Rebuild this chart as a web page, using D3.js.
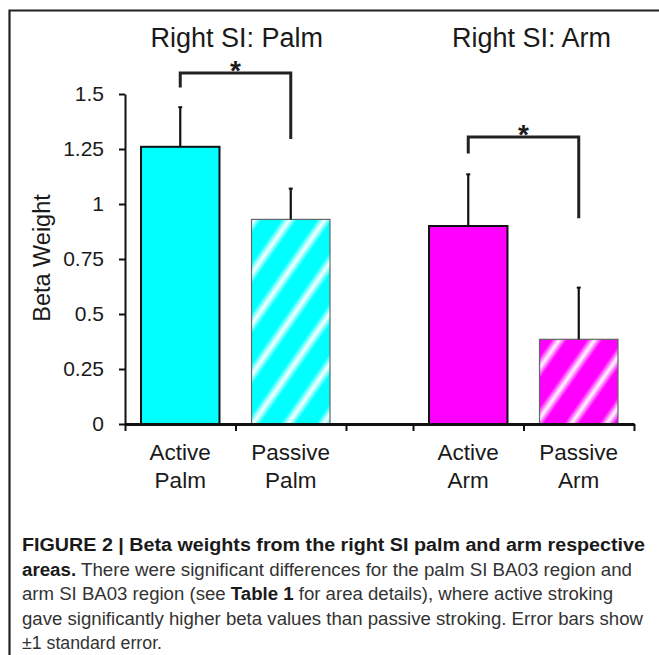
<!DOCTYPE html>
<head>
<meta charset="utf-8">
<script src="https://d3js.org/d3.v7.min.js"></script>
<style>
  body { margin: 0; background: #fff; }
  svg text { font-family: Arial, "Liberation Sans", Helvetica, sans-serif; fill: #1a1a1a; }
  .cap text { fill: #333; }
</style>
</head>
<body>
<script>

// data
var groups = ["Palm", "Arm"];
var conditions = ["Active", "Passive"];
var groupTitles = ["Right SI: Palm", "Right SI: Arm"];
var betaMean = [1.26, 0.93, 0.90, 0.385];   // Active Palm, Passive Palm, Active Arm, Passive Arm
var betaSE = [0.18, 0.14, 0.235, 0.235];
var yTicks = [0, 0.25, 0.5, 0.75, 1, 1.25, 1.5];
var bracketTop = [1.595, 1.305];
var bracketLegs = [[1.53, 1.295], [1.23, 0.935]];

var captionLines = [
  [["FIGURE 2 | Beta weights from the right SI palm and arm respective", true]],
  [["areas.", true], [" There were significant differences for the palm SI BA03 region and", false]],
  [["arm SI BA03 region (see ", false], ["Table 1", true], [" for area details), where active stroking", false]],
  [["gave significantly higher beta values than passive stroking. Error bars show", false]],
  [["\u00b11 standard error.", false]]
];

var W = 659, H = 655;
var svg = d3.select("body").append("svg")
    .attr("width", W)
    .attr("height", H);

// soft diagonal stripe fills for the passive bars
var defs = svg.append("defs");
function stripes(id, col) {
  var g = defs.append("linearGradient").attr("id", id + "-g")
      .attr("x1", 0).attr("x2", 1).attr("y1", 0).attr("y2", 0);
  [[0, col], [0.3, col], [0.52, "#fff"], [0.74, col], [1, col]].forEach(function(s) {
    g.append("stop").attr("offset", s[0]).attr("stop-color", s[1]);
  });
  var p = defs.append("pattern").attr("id", id)
      .attr("patternUnits", "userSpaceOnUse")
      .attr("width", 29).attr("height", 60)
      .attr("patternTransform", "rotate(35)");
  p.append("rect").attr("width", 29).attr("height", 60).attr("fill", "url(#" + id + "-g)");
}
stripes("cyanStripe", "#00ffff");
stripes("magStripe", "#ff00ff");

var fills = ["#00ffff", "url(#cyanStripe)", "#ff00ff", "url(#magStripe)"];

// frame
svg.append("path")
    .attr("d", "M9.5,655V10.5H659")
    .attr("fill", "none")
    .attr("stroke", "#231f20")
    .attr("stroke-width", 2.2);

var y = d3.scaleLinear().domain([0, 1.5]).range([424, 94]);
var xg = d3.scaleBand().domain(groups).range([125, 634]).paddingInner(0.2326);
var xc = d3.scaleBand().domain(conditions).range([0, xg.bandwidth()])
    .paddingInner(0.29).paddingOuter(0.145);

var bars = [];
groups.forEach(function(g, gi) {
  conditions.forEach(function(c, ci) {
    var i = gi * 2 + ci;
    bars.push({ g: g, c: c, i: i, x: xg(g) + xc(c), mean: betaMean[i], se: betaSE[i] });
  });
});

// bars
svg.append("g").selectAll("rect")
  .data(bars)
  .join("rect")
    .attr("x", function(d) { return d.x; })
    .attr("y", function(d) { return y(d.mean); })
    .attr("width", xc.bandwidth())
    .attr("height", function(d) { return y(0) - y(d.mean); })
    .attr("fill", function(d) { return fills[d.i]; })
    .attr("stroke", function(d) { return d.c == "Active" ? "#111" : "#666"; })
    .attr("stroke-width", function(d) { return d.c == "Active" ? 2 : 1.2; });

// error bars (upper only)
var eb = svg.append("g").attr("stroke", "#111");
eb.selectAll("line.v")
  .data(bars)
  .join("line")
    .attr("class", "v")
    .attr("x1", function(d) { return d.x + xc.bandwidth() / 2; })
    .attr("x2", function(d) { return d.x + xc.bandwidth() / 2; })
    .attr("y1", function(d) { return y(d.mean); })
    .attr("y2", function(d) { return y(d.mean + d.se); })
    .attr("stroke-width", 2.2);
eb.selectAll("line.c")
  .data(bars)
  .join("line")
    .attr("class", "c")
    .attr("x1", function(d) { return d.x + xc.bandwidth() / 2 - 2; })
    .attr("x2", function(d) { return d.x + xc.bandwidth() / 2 + 2; })
    .attr("y1", function(d) { return y(d.mean + d.se); })
    .attr("y2", function(d) { return y(d.mean + d.se); })
    .attr("stroke-width", 2);

// y axis
var yAxis = svg.append("g")
    .attr("transform", "translate(125,0)")
    .call(d3.axisLeft(y).tickValues(yTicks).tickSize(6).tickSizeOuter(0)
      .tickFormat(function(d) { return String(d); }));
yAxis.select(".domain").attr("stroke", "#111").attr("stroke-width", 2);
yAxis.selectAll(".tick line").attr("stroke", "#111").attr("stroke-width", 2);
yAxis.selectAll(".tick text")
    .attr("x", -21)
    .attr("font-size", 21)
    .attr("font-family", "Arial, 'Liberation Sans', sans-serif")
    .attr("fill", "#1a1a1a");

// x axis: ticks at group edges and between conditions
var xEdges = [];
groups.forEach(function(g) {
  xEdges.push(xg(g), xg(g) + xg.bandwidth() / 2, xg(g) + xg.bandwidth());
});
var xs = d3.scaleLinear().domain([125, 634]).range([125, 634]);
var xAxis = svg.append("g")
    .attr("transform", "translate(0," + y(0) + ")")
    .call(d3.axisBottom(xs).tickValues(xEdges).tickSize(7).tickSizeOuter(0).tickFormat(""));
xAxis.select(".domain").attr("stroke", "#111").attr("stroke-width", 3);
xAxis.selectAll(".tick line").attr("stroke", "#111").attr("stroke-width", 2);

// category labels
var lab = svg.append("g").attr("text-anchor", "middle").attr("font-size", 22.5);
bars.forEach(function(d) {
  var cx = d.x + xc.bandwidth() / 2;
  lab.append("text").attr("x", cx).attr("y", 460).text(d.c);
  lab.append("text").attr("x", cx).attr("y", 488).text(d.g);
});

// y title
svg.append("text")
    .attr("transform", "translate(50,258) rotate(-90)")
    .attr("text-anchor", "middle")
    .attr("font-size", 23.5)
    .text("Beta Weight");

// group titles
groups.forEach(function(g, gi) {
  svg.append("text")
      .attr("x", xg(g) + xg.bandwidth() - 23)
      .attr("y", 47)
      .attr("text-anchor", "end")
      .attr("font-size", 27)
      .text(groupTitles[gi]);
});

// significance brackets
groups.forEach(function(g, gi) {
  var a = xg(g) + xc("Active") + xc.bandwidth() / 2,
      b = xg(g) + xc("Passive") + xc.bandwidth() / 2;
  var top = y(bracketTop[gi]);
  svg.append("path")
      .attr("d", "M" + a + "," + y(bracketLegs[gi][0]) + "V" + top + "H" + b + "V" + y(bracketLegs[gi][1]))
      .attr("fill", "none")
      .attr("stroke", "#222")
      .attr("stroke-width", 3);
  svg.append("text")
      .attr("x", (a + b) / 2)
      .attr("y", top + 7)
      .attr("text-anchor", "middle")
      .attr("font-size", 28)
      .attr("font-weight", "bold")
      .text("*");
});

// caption
var capEnds = [645, 632, 613, 643, 162];
var cap = svg.append("g").attr("class", "cap");
captionLines.forEach(function(line, li) {
  var t = cap.append("text")
      .attr("x", 22)
      .attr("y", 551 + li * 24.5)
      .attr("font-size", 17.5)
      .attr("textLength", capEnds[li] - 22)
      .attr("lengthAdjust", "spacingAndGlyphs");
  line.forEach(function(part) {
    t.append("tspan")
        .attr("font-weight", part[1] ? "bold" : "normal")
        .style("fill", part[1] ? "#1a1a1a" : "#333")
        .text(part[0]);
  });
});
</script>
</body>
